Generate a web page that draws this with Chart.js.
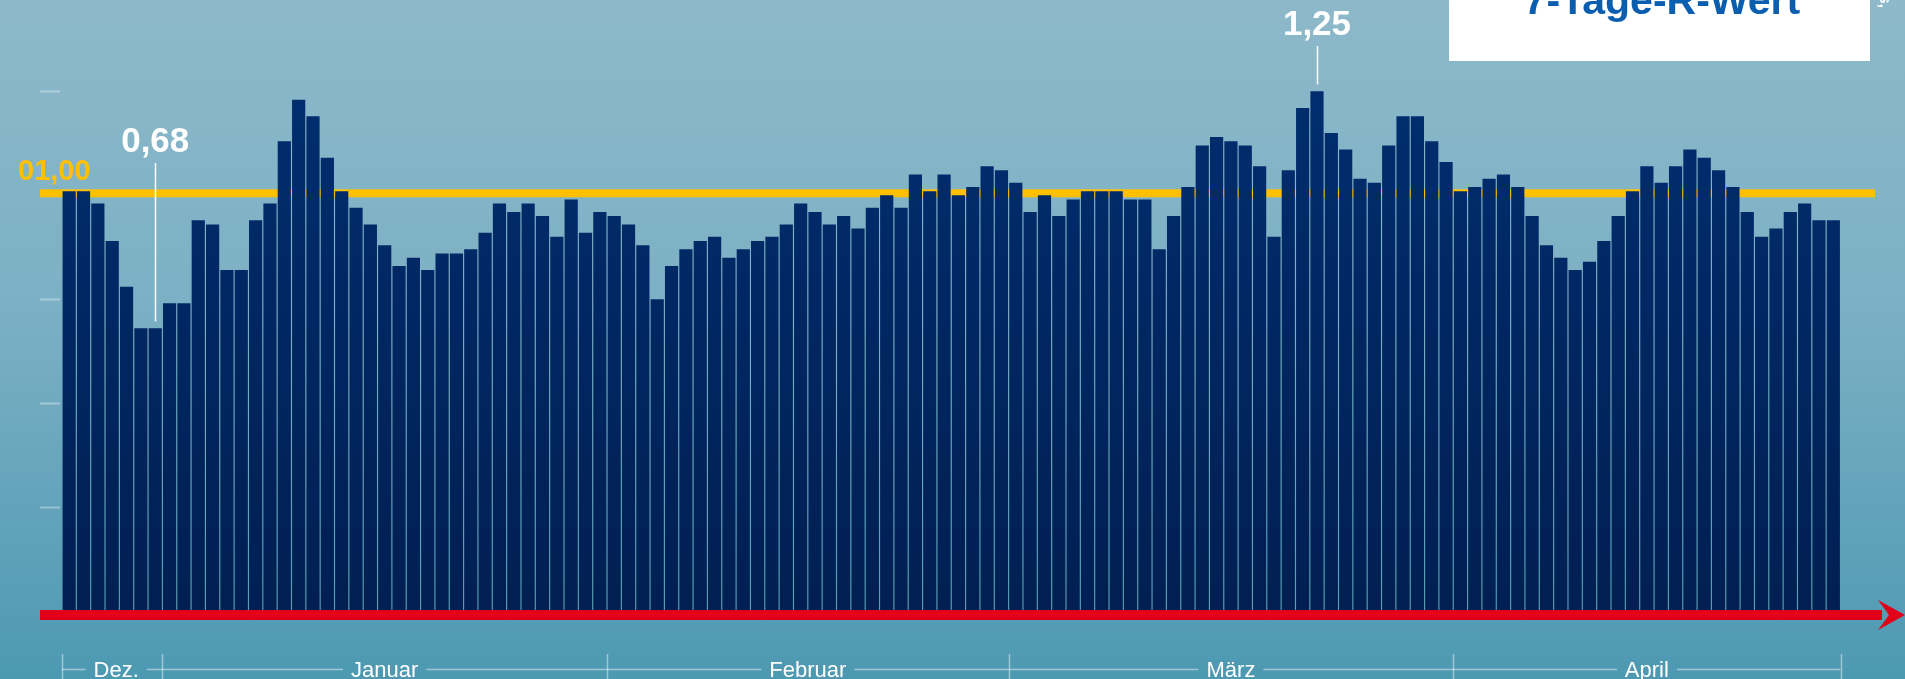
<!DOCTYPE html>
<html lang="de">
<head>
<meta charset="utf-8">
<title>7-Tage-R-Wert</title>
<script src="https://cdn.jsdelivr.net/npm/chart.js@4/dist/chart.umd.min.js"></script>
<style>
    html, body { margin: 0; padding: 0; }
    body {
        width: 1905px;
        height: 679px;
        overflow: hidden;
        background: linear-gradient(180deg, #8db9ca 0%, #7cb0c4 45%, #4d99b2 100%);
    }
    #wrap { position: relative; width: 1905px; height: 679px; }
</style>
</head>
<body>
<div id="wrap"><canvas id="rChart"></canvas></div>
<script>
// ── Data ─────────────────────────────────────────────────────────────────────
const monthNames = ['Dez.', 'Januar', 'Februar', 'März', 'April'];
const monthNums  = [12, 1, 2, 3, 4];
const monthFirst = [25, 1, 1, 1, 1];

// 7-Tage-R-Wert, one value per day
const rDez = [1.01, 1.01, 0.98, 0.89, 0.78, 0.68, 0.68];
const rJan = [0.74, 0.74, 0.94, 0.93, 0.82, 0.82, 0.94, 0.98, 1.13, 1.23,
              1.19, 1.09, 1.01, 0.97, 0.93, 0.88, 0.83, 0.85, 0.82, 0.86,
              0.86, 0.87, 0.91, 0.98, 0.96, 0.98, 0.95, 0.90, 0.99, 0.91,
              0.96];
const rFeb = [0.95, 0.93, 0.88, 0.75, 0.83, 0.87, 0.89, 0.90, 0.85, 0.87,
              0.89, 0.90, 0.93, 0.98, 0.96, 0.93, 0.95, 0.92, 0.97, 1.00,
              0.97, 1.05, 1.01, 1.05, 1.00, 1.02, 1.07, 1.06];
const rMar = [1.03, 0.96, 1.00, 0.95, 0.99, 1.01, 1.01, 1.01, 0.99, 0.99,
              0.87, 0.95, 1.02, 1.12, 1.14, 1.13, 1.12, 1.07, 0.90, 1.06,
              1.21, 1.25, 1.15, 1.11, 1.04, 1.03, 1.12, 1.19, 1.19, 1.13,
              1.08];
const rApr = [1.01, 1.02, 1.04, 1.05, 1.02, 0.95, 0.88, 0.85, 0.82, 0.84,
              0.89, 0.95, 1.01, 1.07, 1.03, 1.07, 1.11, 1.09, 1.06, 1.02,
              0.96, 0.90, 0.92, 0.96, 0.98, 0.94, 0.94];

const rByMonth = [rDez, rJan, rFeb, rMar, rApr];
const threshold = 1.00;
const thresholdLabel = '01,00';
const yTicks = [0.25, 0.5, 0.75, 1.0, 1.25];
const titleText = '7-Tage-R-Wert';
const sideText = 's,';

// category labels (dd.mm.) and month spans built from the month arrays
const days = [];
const rValues = [];
const monthStart = [];
rByMonth.forEach((vals, m) => {
    monthStart.push(days.length);
    vals.forEach((v, i) => {
        const d = monthFirst[m] + i;
        days.push(String(d).padStart(2, '0') + '.' + String(monthNums[m]).padStart(2, '0') + '.');
        rValues.push(v);
    });
});

// the two highlighted values: the minimum and the maximum
const maxIdx = rValues.lastIndexOf(Math.max(...rValues));
const callouts = [
    { idx: rValues.lastIndexOf(Math.min(...rValues)), text: '0,68' },
    { idx: maxIdx, text: '1,25' }
];

// ── Overlay plugin ───────────────────────────────────────────────────────────
const FONT = '"Liberation Sans", Arial, sans-serif';

const overlay = {
    id: 'overlay',
    beforeDatasetsDraw(chart) {
        const { ctx, scales: { y } } = chart;
        ctx.save();
        // short tick marks on the left
        ctx.strokeStyle = 'rgba(255,255,255,0.35)';
        ctx.lineWidth = 2;
        yTicks.forEach(t => {
            const py = Math.round(y.getPixelForValue(t)) + 0.5;
            ctx.beginPath();
            ctx.moveTo(40, py);
            ctx.lineTo(60, py);
            ctx.stroke();
        });
        // threshold line at R = 1
        const ty = y.getPixelForValue(threshold) - 2;
        ctx.fillStyle = '#ffc000';
        ctx.fillRect(40, ty - 4, 1835, 8);
        ctx.restore();
    },
    afterDatasetsDraw(chart) {
        const { ctx, scales: { x, y } } = chart;
        const pitch = x.getPixelForValue(1) - x.getPixelForValue(0);
        const edge = i => x.getPixelForValue(i) - pitch / 2;
        ctx.save();

        // red time arrow
        const base = y.getPixelForValue(0);
        ctx.fillStyle = '#e2001a';
        ctx.fillRect(40, base - 1, 1842, 10);
        ctx.beginPath();
        ctx.moveTo(1878, base - 11);
        ctx.lineTo(1905, base + 4);
        ctx.lineTo(1878, base + 19);
        ctx.lineTo(1889, base + 4);
        ctx.closePath();
        ctx.fill();

        // month brackets
        const lineY = 669.5;
        const bounds = monthStart.concat([rValues.length]).map(edge);
        ctx.strokeStyle = 'rgba(255,255,255,0.45)';
        ctx.lineWidth = 1.5;
        ctx.font = '22px ' + FONT;
        ctx.fillStyle = '#ffffff';
        ctx.textAlign = 'center';
        ctx.textBaseline = 'alphabetic';
        bounds.forEach(bx => {
            ctx.beginPath();
            ctx.moveTo(Math.round(bx) + 0.5, 654);
            ctx.lineTo(Math.round(bx) + 0.5, 679);
            ctx.stroke();
        });
        monthNames.forEach((name, m) => {
            const x0 = bounds[m], x1 = bounds[m + 1];
            const cx = (x0 + x1) / 2 + (m === 0 ? 4 : 0);
            const w = ctx.measureText(name).width;
            ctx.beginPath();
            ctx.moveTo(x0, lineY);
            ctx.lineTo(cx - w / 2 - 8, lineY);
            ctx.moveTo(cx + w / 2 + 8, lineY);
            ctx.lineTo(x1, lineY);
            ctx.stroke();
            ctx.fillText(name, cx, 677);
        });

        // threshold label
        ctx.font = 'bold 29px ' + FONT;
        ctx.fillStyle = '#ffc000';
        ctx.textAlign = 'left';
        ctx.fillText(thresholdLabel, 18, 180);

        // callouts with leader lines
        ctx.font = 'bold 35px ' + FONT;
        ctx.fillStyle = '#ffffff';
        ctx.textAlign = 'center';
        ctx.strokeStyle = '#ffffff';
        ctx.lineWidth = 1.5;
        callouts.forEach(c => {
            const cx = x.getPixelForValue(c.idx);
            const top = y.getPixelForValue(rValues[c.idx]);
            const textY = c.idx === maxIdx ? 35 : 152;
            ctx.fillText(c.text, cx, textY);
            ctx.beginPath();
            ctx.moveTo(Math.round(cx) + 0.5, textY + 11);
            ctx.lineTo(Math.round(cx) + 0.5, top - 7);
            ctx.stroke();
        });

        // title box
        ctx.fillStyle = '#ffffff';
        ctx.fillRect(1449, 0, 421, 61);
        ctx.font = 'bold 41px ' + FONT;
        ctx.fillStyle = '#0a5eb0';
        ctx.fillText(titleText, 1662, 14);

        // cut-off vertical text at the right edge
        ctx.save();
        ctx.translate(1880, 8);
        ctx.rotate(Math.PI / 2);
        ctx.font = 'bold 16px ' + FONT;
        ctx.fillStyle = '#ffffff';
        ctx.textAlign = 'right';
        ctx.fillText(sideText, 0, 0);
        ctx.restore();

        ctx.restore();
    }
};

// ── Chart setup ──────────────────────────────────────────────────────────────
const ctx = document.getElementById('rChart').getContext('2d');
const chart = new Chart(ctx, {
    type: 'bar',
    data: {
        labels: days,
        datasets: [{
            label: '7-Tage-R-Wert',
            data: rValues,
            backgroundColor: (c) => {
                const area = c.chart.chartArea;
                if (!area) return '#012d6e';
                const g = c.chart.ctx.createLinearGradient(0, area.top, 0, area.bottom);
                g.addColorStop(0, '#012f72');
                g.addColorStop(1, '#011f52');
                return g;
            },
            borderWidth: 0,
            barPercentage: 0.92,
            categoryPercentage: 1.0
        }]
    },
    options: {
        responsive: true,
        maintainAspectRatio: false,
        animation: false,
        layout: { padding: { left: 62, right: 64.5, top: 29, bottom: 68 } },
        plugins: {
            legend: { display: false },
            tooltip: { enabled: false }
        },
        scales: {
            x: { display: false },
            y: { display: false, min: 0, max: 1.4 }
        }
    },
    plugins: [overlay]
});
</script>
</body>
</html>
